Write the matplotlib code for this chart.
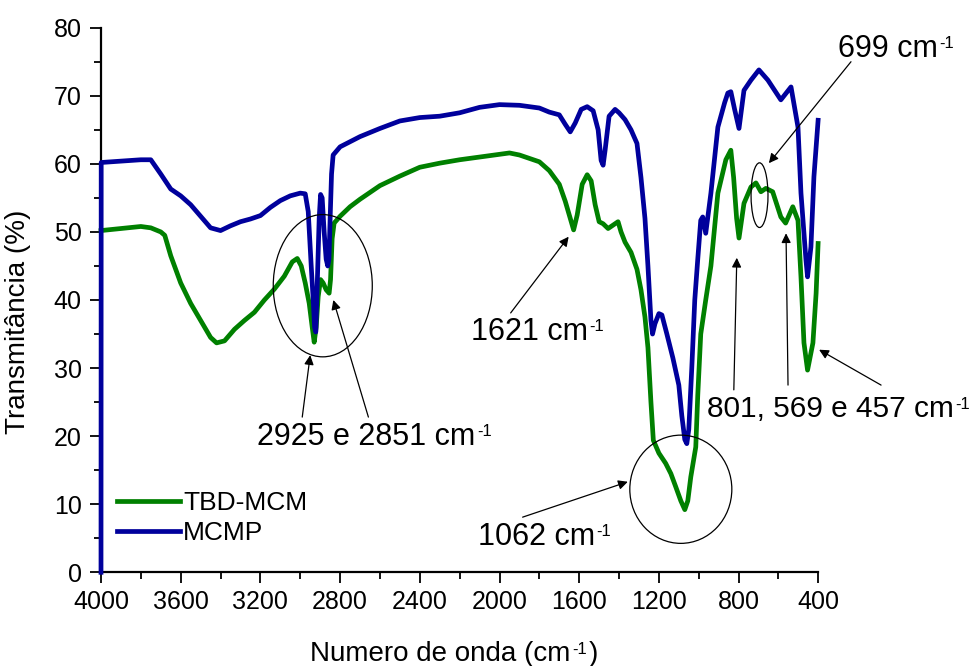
import matplotlib
matplotlib.use("Agg")
import matplotlib.pyplot as plt
from matplotlib.patches import Ellipse
from matplotlib.ticker import MultipleLocator

plt.rcParams['font.family'] = ['Liberation Sans', 'DejaVu Sans']
plt.rcParams['mathtext.fontset'] = 'custom'
plt.rcParams['mathtext.rm'] = 'Liberation Sans'
plt.rcParams['mathtext.it'] = 'Liberation Sans:italic'
plt.rcParams['mathtext.bf'] = 'Liberation Sans:bold'

# FTIR spectra: wavenumber (cm-1) and transmittance (%)
tbd_wn = [4000, 3900, 3800, 3750, 3700, 3680, 3650, 3600, 3550, 3500, 3450, 3420,
          3380, 3330, 3280, 3230, 3180, 3130, 3080, 3040, 3015, 2995, 2975, 2955,
          2940, 2930, 2920, 2910, 2898, 2885, 2870, 2855, 2848, 2840, 2830, 2800,
          2750, 2700, 2600, 2500, 2400, 2300, 2200, 2100, 2000, 1950, 1900, 1850,
          1800, 1750, 1700, 1670, 1645, 1628, 1610, 1585, 1560, 1540, 1520, 1500,
          1480, 1455, 1430, 1405, 1390, 1370, 1340, 1310, 1290, 1270, 1255, 1240,
          1228, 1200, 1166, 1140, 1116, 1090, 1070, 1055, 1040, 1015, 1005, 990,
          965, 939, 904, 864, 839, 825, 810, 798, 773, 738, 713, 688, 663, 629,
          588, 564, 528, 502, 487, 472, 454, 427, 411, 401]
tbd_t = [50.2, 50.5, 50.8, 50.6, 50.0, 49.5, 46.5, 42.5, 39.5, 37.0, 34.5, 33.7,
         34.0, 35.7, 37.0, 38.2, 40.0, 41.6, 43.5, 45.6, 46.1, 45.0, 42.5, 39.5,
         36.0, 33.8, 36.0, 40.5, 43.0, 42.5, 41.5, 41.0, 43.0, 49.0, 51.3, 52.3,
         53.7, 54.8, 56.8, 58.2, 59.5, 60.1, 60.6, 61.0, 61.4, 61.6, 61.3, 60.8,
         60.3, 59.0, 57.0, 54.5, 52.0, 50.3, 52.5, 57.0, 58.4, 57.5, 54.0, 51.5,
         51.2, 50.5, 51.0, 51.5, 50.0, 48.5, 47.0, 44.5, 41.5, 37.5, 33.0, 25.0,
         19.4, 17.5, 16.0, 14.5, 12.6, 10.5, 9.2, 10.5, 14.0, 18.4, 26.0, 35.0,
         40.0, 45.0, 55.7, 60.6, 62.0, 58.0, 52.0, 49.1, 54.2, 56.6, 57.2, 55.9,
         56.4, 55.9, 52.2, 51.3, 53.7, 51.7, 43.4, 33.7, 29.7, 33.7, 41.0, 48.3]

mcmp_wn = [4000, 3999, 3900, 3800, 3750, 3700, 3650, 3600, 3550, 3500, 3450, 3400,
           3350, 3300, 3250, 3200, 3150, 3100, 3050, 3000, 2975, 2960, 2945, 2935,
           2928, 2922, 2915, 2905, 2898, 2890, 2880, 2870, 2862, 2856, 2850, 2843,
           2835, 2800, 2700, 2600, 2500, 2400, 2300, 2200, 2100, 2000, 1900, 1800,
           1750, 1700, 1670, 1645, 1620, 1590, 1560, 1530, 1505, 1490, 1480, 1470,
           1450, 1420, 1400, 1370, 1340, 1310, 1290, 1270, 1255, 1240, 1232, 1220,
           1200, 1185, 1160, 1130, 1100, 1085, 1070, 1060, 1050, 1035, 1020, 1005,
           990, 980, 965, 939, 904, 870, 854, 839, 820, 798, 773, 738, 698, 653,
           588, 537, 502, 487, 462, 454, 437, 422, 401]
mcmp_t = [0.0, 60.2, 60.4, 60.6, 60.6, 58.5, 56.3, 55.3, 54.0, 52.3, 50.6, 50.2,
          50.9, 51.5, 51.9, 52.4, 53.6, 54.6, 55.3, 55.7, 55.6, 53.0, 45.0, 40.0,
          36.0, 35.3, 42.0, 52.0, 55.5, 55.0, 50.0, 46.0, 45.0, 46.0, 52.0, 58.5,
          61.3, 62.5, 64.0, 65.2, 66.3, 66.8, 67.0, 67.5, 68.3, 68.7, 68.6, 68.2,
          67.6, 67.2, 65.8, 64.7, 66.0, 68.0, 68.4, 67.8, 65.0, 60.5, 59.8, 62.0,
          67.0, 68.0, 67.5, 66.5, 65.0, 63.0, 58.0, 52.0, 45.0, 37.0, 35.0, 36.5,
          38.0, 37.8, 35.0, 31.5, 27.5, 23.0, 19.5, 18.9, 21.0, 30.0, 40.0, 46.0,
          51.7, 52.2, 49.8, 55.7, 65.4, 69.0, 70.4, 70.6, 68.0, 65.2, 70.8, 72.3,
          73.8, 72.3, 69.4, 71.3, 65.4, 55.7, 45.9, 43.4, 47.8, 58.1, 66.4]

series_labels = ['TBD-MCM', 'MCMP']
series_colors = ['#008000', '#00009c']

fig = plt.figure(figsize=(9.77, 6.66), dpi=100)
ax = fig.add_axes([0.10338, 0.14069, 0.73419, 0.81772])

ax.plot(tbd_wn, tbd_t, color=series_colors[0], lw=3.4, label=series_labels[0],
        solid_joinstyle='round', clip_on=False, zorder=3)
ax.plot(mcmp_wn, mcmp_t, color=series_colors[1], lw=3.4, label=series_labels[1],
        solid_joinstyle='round', clip_on=False, zorder=4)

ax.set_xlim(4000, 400)
ax.set_ylim(0, 80)
ax.xaxis.set_major_locator(MultipleLocator(400))
ax.xaxis.set_minor_locator(MultipleLocator(200))
ax.yaxis.set_major_locator(MultipleLocator(10))
ax.yaxis.set_minor_locator(MultipleLocator(5))

for side in ('top', 'right'):
    ax.spines[side].set_visible(False)
for side in ('left', 'bottom'):
    ax.spines[side].set_linewidth(1.6)
    ax.spines[side].set_zorder(2)

ax.tick_params(which='major', direction='out', length=8, width=1.3,
               labelsize=18, colors='black')
ax.tick_params(which='minor', direction='out', length=5, width=1.3)
ax.tick_params(axis='y', which='major', pad=6)
ax.tick_params(axis='x', which='major', pad=5)

ax.set_ylabel('Transmitância (%)', fontsize=20)
ax.yaxis.set_label_coords(-0.097, 0.46)

# x-axis title with a small raised exponent
xt = fig.text(0.3173, 0.008, 'Numero de onda (cm', fontsize=20,
              ha='left', va='baseline')
ax.annotate('-1', xy=(1.0, 0.93), xycoords=xt, xytext=(1, 0),
            textcoords='offset points', fontsize=12, ha='left', va='top',
            annotation_clip=False)
ax.annotate(')', xy=(1.0, 0.0), xycoords=xt, xytext=(13, 0),
            textcoords='offset points', fontsize=20, ha='left', va='bottom',
            annotation_clip=False)

leg = ax.legend(loc='center left', bbox_to_anchor=(0.022, 0.099), frameon=False,
                fontsize=19, handlelength=2.4, handletextpad=0.12,
                labelspacing=0.22, borderpad=0, borderaxespad=0)

# Band annotations
ann_font = 22
sup_font = 12
arrow_kw = dict(arrowstyle='-|>', color='black', lw=0.9,
                mutation_scale=14, shrinkA=0, shrinkB=0)


def note(xy_head, xy_tail):
    ax.annotate('', xy=xy_head, xytext=xy_tail, arrowprops=arrow_kw,
                annotation_clip=False, zorder=6)


def band_label(x, y, value_text, size=ann_font):
    """Label such as '1062 cm' followed by a small raised '-1'."""
    t = ax.text(x, y, value_text + ' cm', fontsize=size, ha='left',
                va='baseline', clip_on=False)
    ax.annotate('-1', xy=(1.0, 0.93), xycoords=t, xytext=(1, 0),
                textcoords='offset points', fontsize=sup_font,
                ha='left', va='top', annotation_clip=False)
    return t


# C-H stretching region
ax.add_patch(Ellipse((2887, 42.1), 497, 20.9, fill=False, ec='black', lw=0.9, zorder=5))
note((2950, 31.9), (2990, 22.8))
note((2834, 40.0), (2658, 22.8))
band_label(3216, 18.7, '2925 e 2851')

# 1621 band
note((1653, 49.3), (1944, 38.1))
band_label(2145, 34.1, '1621')

# Si-O-Si band
ax.add_patch(Ellipse((1090, 12.2), 512, 15.9, fill=False, ec='black', lw=0.9, zorder=5))
note((1356, 13.3), (1884, 8.1))
band_label(2110, 4.0, '1062')

# Low-wavenumber bands
note((809, 46.2), (824, 26.8))
note((562, 49.8), (552, 27.5))
note((396, 32.7), (85, 27.5))
band_label(960, 22.8, '801, 569 e 457', size=21.5)

# 699 band
ax.add_patch(Ellipse((695, 55.4), 85, 9.5, fill=False, ec='black', lw=0.9, zorder=5))
note((648, 60.1), (236, 75.0))
band_label(301, 75.7, '699')

fig.savefig('out.png', dpi=100)
